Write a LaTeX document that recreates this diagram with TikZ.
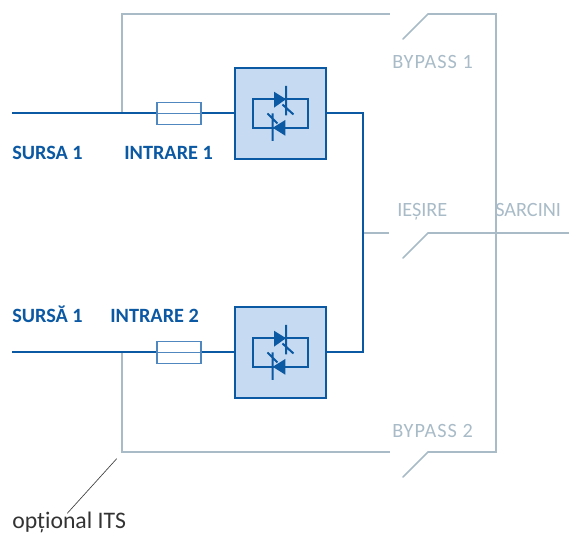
\documentclass[tikz,border=0pt]{standalone}
\usepackage{fontspec}
\setmainfont{Carlito}
\definecolor{upsblue}{RGB}{11,88,163}
\definecolor{upsfuse}{RGB}{80,135,190}
\definecolor{upsfill}{RGB}{198,219,241}
\definecolor{upsgrey}{RGB}{168,187,199}
\tikzset{
  blueline/.style={draw=upsblue,line width=1.5pt},
  greyline/.style={draw=upsgrey,line width=1.15pt},
  scrbox/.style={draw=upsblue,line width=1.5pt,fill=upsfill,minimum size=68pt,inner sep=0pt},
  fusebox/.style={draw=upsfuse,line width=0.8pt,fill=white,minimum width=33pt,minimum height=16.5pt,inner sep=0pt},
  bluelabel/.style={anchor=base west,inner sep=0pt,text=upsblue,font=\fontsize{15.2}{17}\selectfont\bfseries},
  greylabel/.style={anchor=base west,inner sep=0pt,text=upsgrey,font=\fontsize{15.2}{17}\selectfont},
  thyristors/.pic={
    \draw [upsblue,line width=1.5pt] (-27.3,-14.3) rectangle (27.3,14.3);
    \fill [upsblue] (-6.5,-21.8) -- (5.5,-14.3) -- (-6.5,-5.8) -- cycle;
    \fill [upsblue] (4.8,6.5) -- (-7.8,14.3) -- (4.8,22.2) -- cycle;
    \draw [upsblue,line width=1.5pt] (5.5,-27.5) -- (5.5,2) (2,-9) -- (13,1);
    \draw [upsblue,line width=1.5pt] (-7.8,0) -- (-7.8,27.5) (-13,0) -- (-3,10);
  }
}
\begin{document}
\begin{tikzpicture}[x=0.75pt,y=0.75pt,yscale=-1]
\useasboundingbox (0,0) rectangle (569,534);

% free ends
\coordinate (in1) at (12,113.5);
\coordinate (in2) at (12,352.5);
\coordinate (tap1) at (122,113.5);
\coordinate (tap2) at (122,352.5);
\coordinate (bus1) at (363,113.5);
\coordinate (bus2) at (363,352.5);
\coordinate (busout) at (363,233);
\coordinate (topcorner) at (122,14);
\coordinate (botcorner) at (122,452);
\coordinate (topend) at (390,14);
\coordinate (botend) at (390,452);
\coordinate (outend) at (389,233);
\coordinate (topblade) at (403,39);
\coordinate (botblade) at (403,477);
\coordinate (outblade) at (403,258);
\coordinate (tophinge) at (428,14);
\coordinate (bothinge) at (428,452);
\coordinate (outhinge) at (428,233);
\coordinate (topright) at (496,14);
\coordinate (botright) at (496,452);
\coordinate (outright) at (569,233);
\coordinate (itsup) at (116.7,458.7);
\coordinate (itsdown) at (67.3,513.3);

% bypass paths
\draw [greyline] (tap1) -- (topcorner) -- (topend);
\draw [greyline] (tap2) -- (botcorner) -- (botend);
\draw [greyline,line cap=round] (topblade) -- (tophinge) -- (topright) -- (botright) -- (bothinge) -- (botblade);
\draw [greyline] (busout) -- (outend);
\draw [greyline,line cap=round] (outblade) -- (outhinge) -- (outright);

% main paths
\node [scrbox] (scr1) at (280.5,113.5) {};
\node [scrbox] (scr2) at (280.5,352.5) {};
\node [fusebox] (fuse1) at (179,113.5) {};
\node [fusebox] (fuse2) at (179,352.5) {};
\draw [blueline] (in1) -- (fuse1);
\draw [blueline] (in2) -- (fuse2);
\draw [blueline] (fuse1) -- (scr1);
\draw [blueline] (fuse2) -- (scr2);
\draw [blueline] (scr1) -- (bus1) -- (bus2) -- (scr2);
\draw [upsfuse,line width=0.8pt] (fuse1.west) -- (fuse1.east);
\draw [upsfuse,line width=0.8pt] (fuse2.west) -- (fuse2.east);
\pic [transform shape] at (scr1) {thyristors};
\pic [transform shape] at (scr2) {thyristors};

% leader
\draw [black!75,line width=0.5pt] (itsup) -- (itsdown);

% labels
\node [bluelabel] (sursa1) at (12,159.5) {SURSA 1};
\node [bluelabel] (intrare1) at (124,159.5) {INTRARE 1};
\node [bluelabel] (sursa2) at (12,322.5) {SURSĂ 1};
\node [bluelabel] (intrare2) at (110,322.5) {INTRARE 2};
\node [greylabel] (bypass1) at (392,69) {\addfontfeature{LetterSpace=5}BYPASS 1};
\node [greylabel] (bypass2) at (392,438) {\addfontfeature{LetterSpace=5}BYPASS 2};
\node [greylabel] (iesire) at (397,217) {IEȘIRE};
\node [greylabel] (sarcini) at (495,217) {SARCINI};
\node [anchor=base west,inner sep=0pt,text=black!80,font=\fontsize{17.8}{20}\selectfont] (its) at (12,529) {opțional ITS};

\end{tikzpicture}
\end{document}
